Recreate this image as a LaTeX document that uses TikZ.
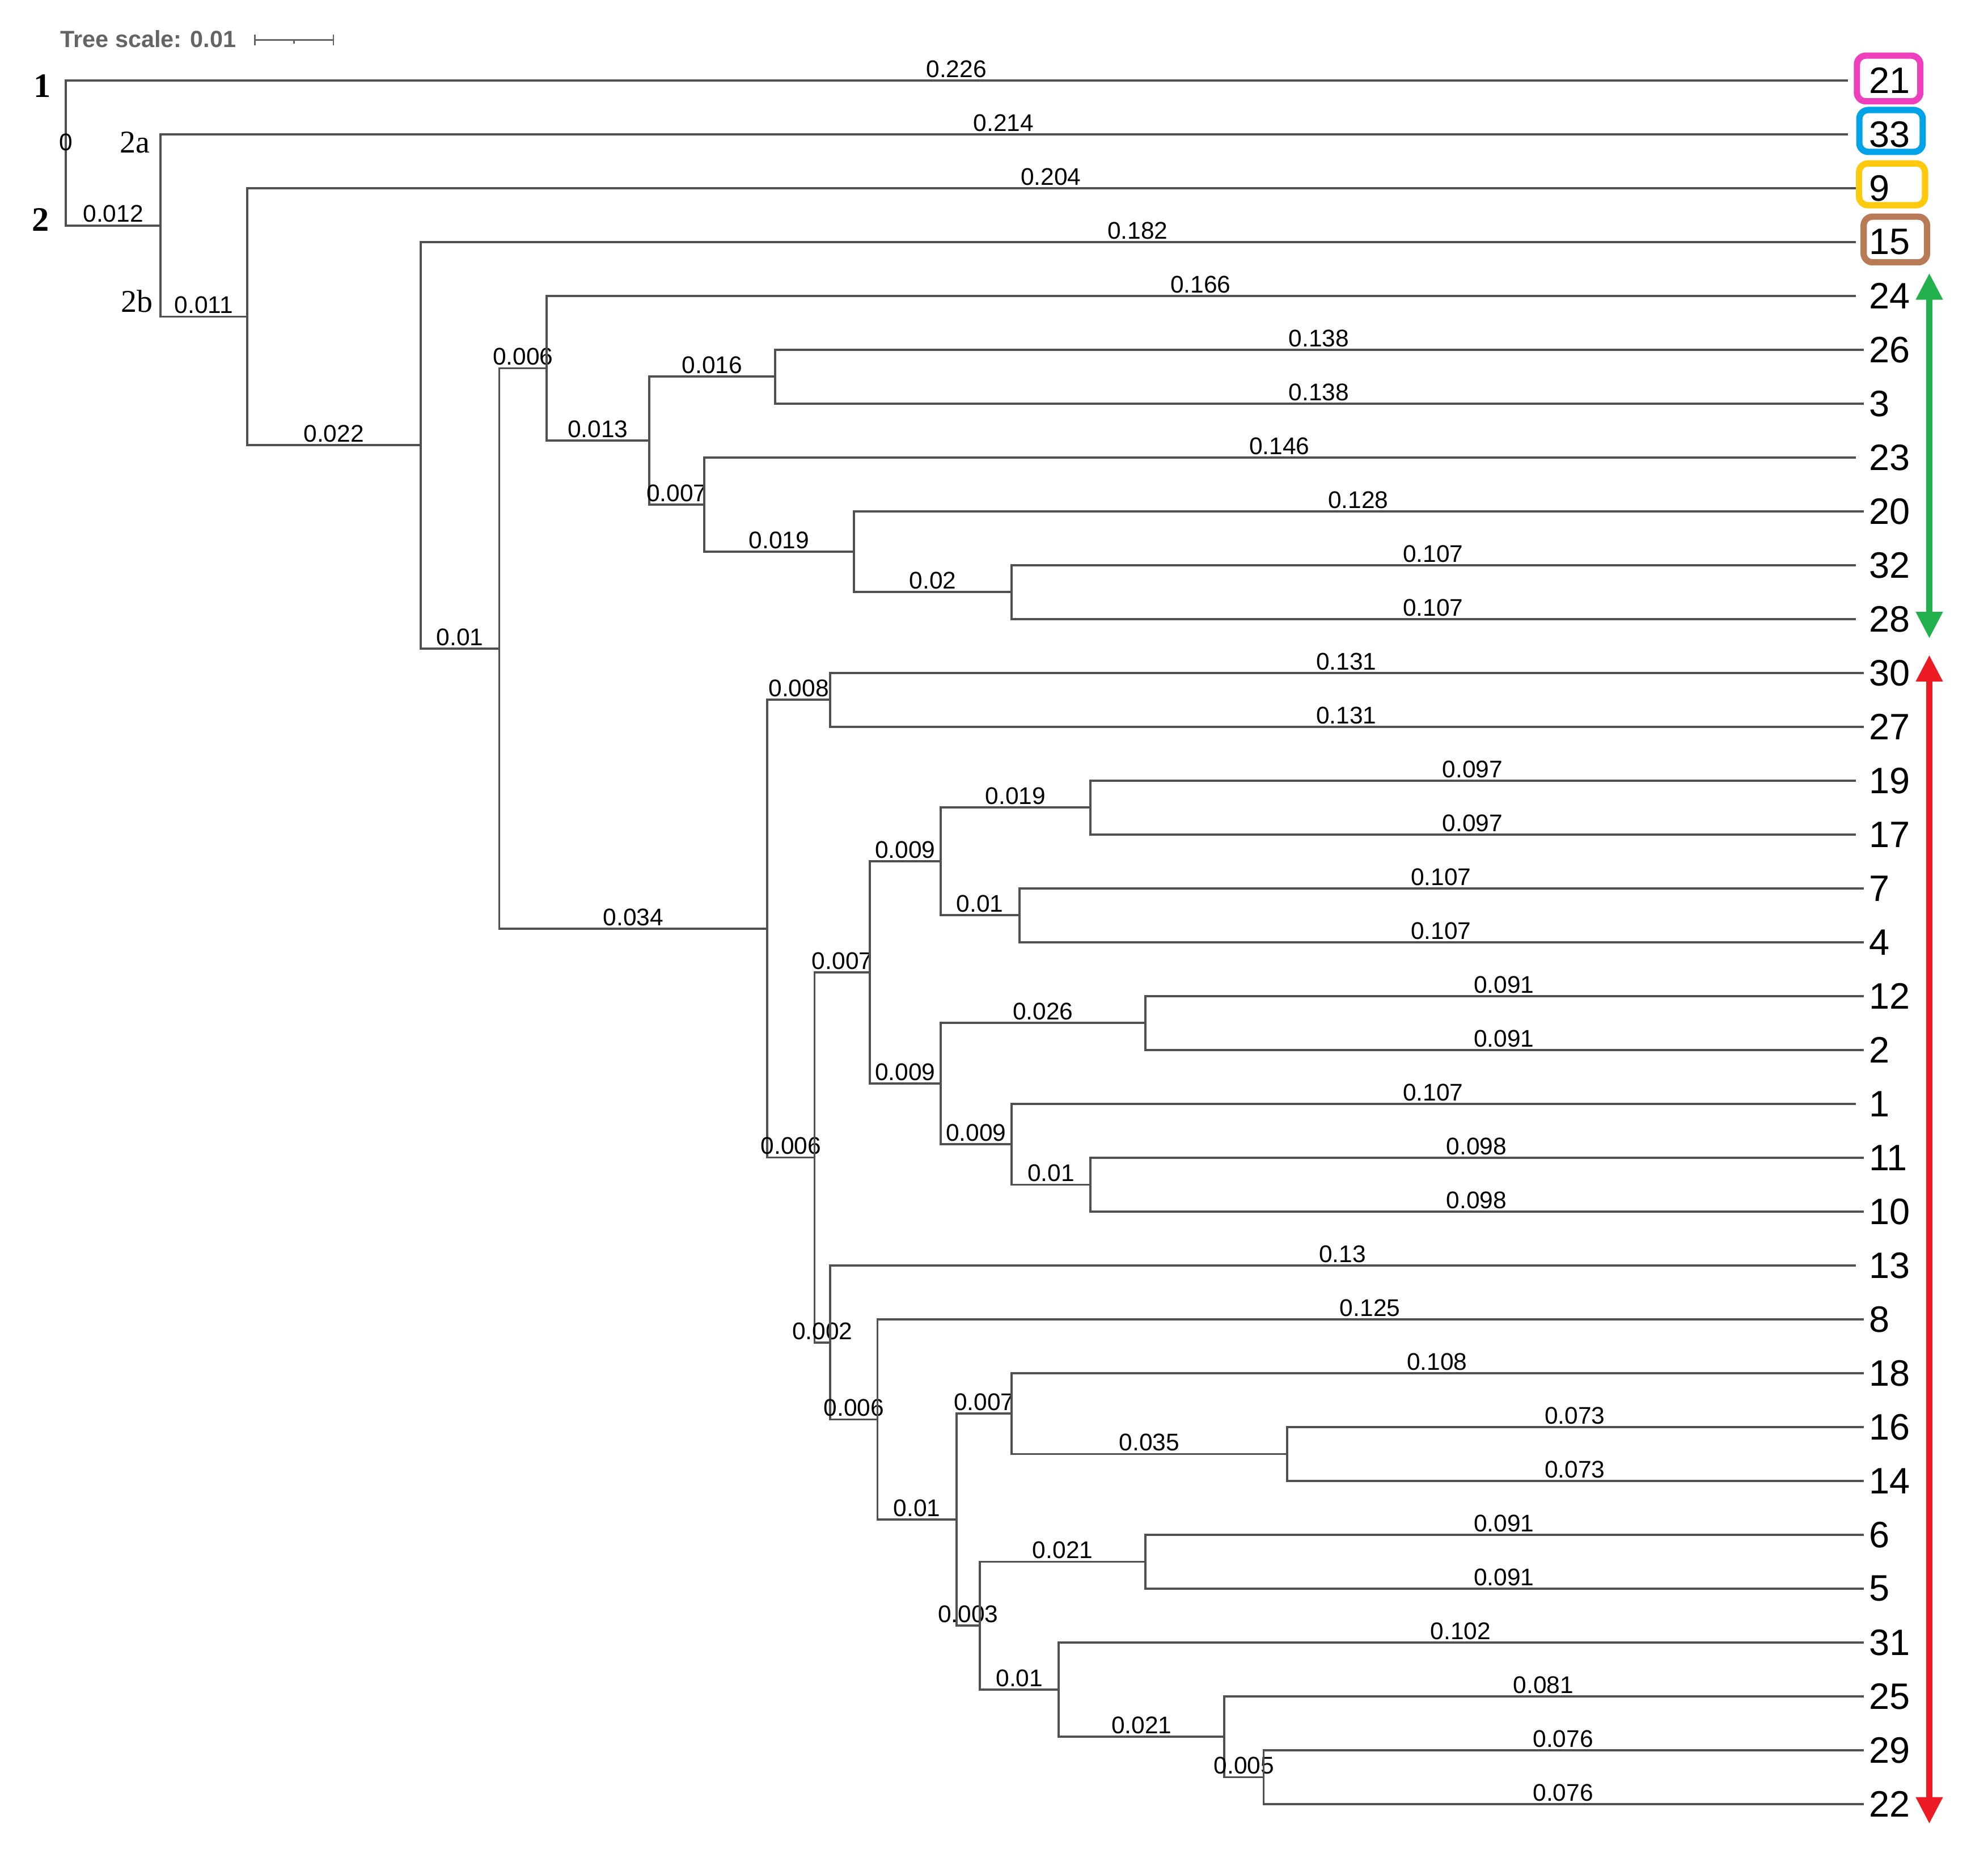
\documentclass[tikz,border=0pt]{standalone}
\usepackage{fontspec}
\setmainfont{Liberation Serif}
\newfontfamily\labfont{Liberation Sans}
\usetikzlibrary{arrows.meta}
\definecolor{treegray}{RGB}{80,80,80}
\definecolor{scalegray}{RGB}{100,100,100}
\definecolor{tagpink}{RGB}{238,64,188}
\definecolor{tagblue}{RGB}{0,162,232}
\definecolor{taggold}{RGB}{255,201,14}
\definecolor{tagbrown}{RGB}{185,122,87}
\definecolor{grpgreen}{RGB}{34,177,76}
\definecolor{grpred}{RGB}{237,28,36}

\begin{document}
\begin{tikzpicture}[x=1pt, y=-1pt,
	branch/.style={draw=treegray, line width=1.7pt, line cap=rect},
	blen/.style={font=\labfont\fontsize{19}{20}\selectfont, inner sep=0pt, above=1.5pt},
	leaf/.style={font=\labfont\fontsize{29}{30}\selectfont, inner sep=0pt, anchor=west},
	clade/.style={font=\fontsize{25}{26}\selectfont, inner sep=0pt},
	cladebold/.style={font=\bfseries\fontsize{27}{28}\selectfont, inner sep=0pt},
	tagbox/.style={draw=#1, line width=5pt, rounded corners=7pt, minimum width=50pt, minimum height=34pt, inner sep=0pt},
	grparrow/.style={draw=#1, line width=5pt, <->, >={Triangle[width=20pt,length=21pt]}}]
\useasboundingbox (0,0) rectangle (1568,1465.5);

% tree, x in branch length units, y in leaf rows
\begin{scope}[shift={(52pt,-63.4pt)}, x=6215pt, y=-42.49pt]
\foreach \lab/\d [count=\i from 0] in {21/.226,33/.226,9/.227,15/.227,24/.227,26/.228,3/.228,23/.227,20/.228,32/.227,28/.227,30/.228,27/.228,19/.227,17/.227,7/.228,4/.228,12/.228,2/.228,1/.227,11/.228,10/.228,13/.227,8/.228,18/.228,16/.228,14/.228,6/.228,5/.228,31/.228,25/.228,29/.228,22/.228}
{
	\coordinate (t\lab) at (\d,\i);
	\node[leaf] (n\lab) at (.2288,\i) {\lab};
}
\foreach \name/\d/\y in {root/0/1.3466, a/.012/2.6932, b/.023/4.3865, c/.045/6.7730, d/.055/10.5459,
	e/.061/5.3438, f/.074/6.6875, g/.090/5.5, h/.081/7.875, i/.100/8.75, j/.120/9.5,
	k/.089/15.7480, l/.097/11.5, m/.095/19.9961, n/.102/16.5625, o/.111/14.5, p/.130/13.5,
	q/.121/15.5, r/.111/18.625, s/.137/17.5, t/.120/19.75, u/.130/20.5, v/.097/23.4297,
	w/.103/24.8594, x/.113/26.7188, y/.120/24.75, z/.155/25.5, aa/.116/28.6875,
	ab/.137/27.5, ac/.126/29.875, ad/.147/30.75, ae/.152/31.5}
	\coordinate (\name) at (\d,\y);
\foreach \p/\c/\w in {root/t21/0.226, root/a/0.012, a/t33/0.214, a/b/0.011, b/t9/0.204, b/c/0.022,
	c/t15/0.182, c/d/0.01, d/e/0.006, d/k/0.034, e/t24/0.166, e/f/0.013, f/g/0.016, f/h/0.007,
	g/t26/0.138, g/t3/0.138, h/t23/0.146, h/i/0.019, i/t20/0.128, i/j/0.02, j/t32/0.107, j/t28/0.107,
	k/l/0.008, k/m/0.006, l/t30/0.131, l/t27/0.131, m/n/0.007, m/v/0.002, n/o/0.009, n/r/0.009,
	o/p/0.019, o/q/0.01, p/t19/0.097, p/t17/0.097, q/t7/0.107, q/t4/0.107, r/s/0.026, r/t/0.009,
	s/t12/0.091, s/t2/0.091, t/t1/0.107, t/u/0.01, u/t11/0.098, u/t10/0.098, v/t13/0.13, v/w/0.006,
	w/t8/0.125, w/x/0.01, x/y/0.007, x/aa/0.003, y/t18/0.108, y/z/0.035, z/t16/0.073, z/t14/0.073,
	aa/ab/0.021, aa/ac/0.01, ab/t6/0.091, ab/t5/0.091, ac/t31/0.102, ac/ad/0.021, ad/t25/0.081,
	ad/ae/0.005, ae/t29/0.076, ae/t22/0.076}
	\draw[branch] (\p) |- node[blen, pos=.75] {\w} (\c);
\node[blen] at (root) {0};
\end{scope}

% scale
\node[font=\labfont\bfseries\fontsize{18.5}{20}\selectfont, text=scalegray, inner sep=0pt, anchor=west] (scale) at (47.5,30.8) {Tree scale: 0.01};
\coordinate (s0) at (201,31.5);
\coordinate (s1) at (263,31.5);
\draw[scalegray, line width=1.2pt] (s0) -- (s1) (201,27.3) -- (201,35.9) (263,27.3) -- (263,35.9) (232,31.5) -- (232,34.6);

% clade marks
\node[cladebold] (cl1) at (33.4,68) {1};
\node[cladebold] (cl2) at (32,173.4) {2};
\node[clade] (cl2a) at (106.6,112.2) {2a};
\node[clade] (cl2b) at (108,237.8) {2b};

% coloured tags
\node[tagbox=tagpink, minimum height=36pt] (tag21) at (1489.6,61.9) {};
\node[tagbox=tagblue, minimum height=33pt] (tag33) at (1491.5,103.3) {};
\node[tagbox=taggold, minimum width=52pt, minimum height=33pt] (tag9) at (1492.3,145.4) {};
\node[tagbox=tagbrown, minimum height=36pt] (tag15) at (1494.9,188.9) {};

% groups
\coordinate (g0) at (1521.7,215.4);
\coordinate (g1) at (1521.7,503.6);
\coordinate (r0) at (1521.7,516.6);
\coordinate (r1) at (1521.7,1438.6);
\draw[grparrow=grpgreen] (g0) -- (g1);
\draw[grparrow=grpred] (r0) -- (r1);
\end{tikzpicture}
\end{document}
